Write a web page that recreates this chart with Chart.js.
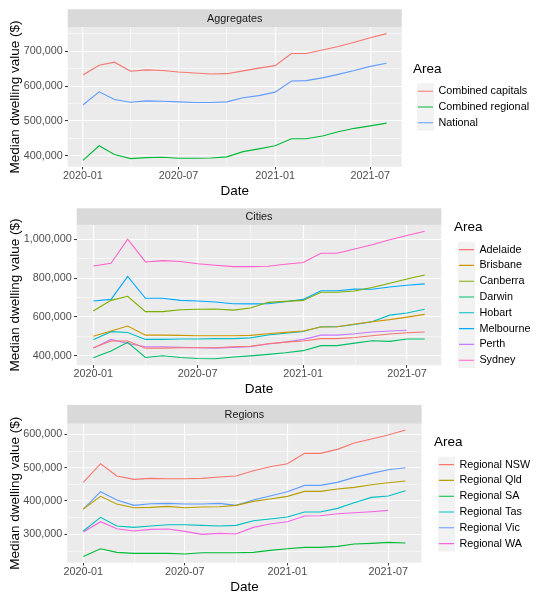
<!DOCTYPE html>
<html>
<head>
<meta charset="utf-8">
<script src="https://cdn.jsdelivr.net/npm/chart.js@4.4.1/dist/chart.umd.min.js"></script>
<style>
  html, body { margin: 0; padding: 0; background: #fff; }
  #wrap { position: relative; width: 543px; height: 600px; }
  .panel { position: absolute; left: 0; width: 543px; height: 200px; }
</style>
</head>
<body>
<div id="wrap">
  <div class="panel" style="top:0"><canvas id="aggChart" width="543" height="200"></canvas></div>
  <div class="panel" style="top:200px"><canvas id="cityChart" width="543" height="200"></canvas></div>
  <div class="panel" style="top:400px"><canvas id="regionChart" width="543" height="200"></canvas></div>
</div>
<script>
// monthly observations, first day of each month
const months = ['2020-01', '2020-02', '2020-03', '2020-04', '2020-05', '2020-06', '2020-07',
  '2020-08', '2020-09', '2020-10', '2020-11', '2020-12', '2021-01', '2021-02', '2021-03',
  '2021-04', '2021-05', '2021-06', '2021-07', '2021-08'];
const xTickLabels = ['2020-01', '2020-07', '2021-01', '2021-07'];

// Aggregates
const aggAreas = ['Combined capitals', 'Combined regional', 'National'];
const combinedCapitals = [632000, 660000, 669000, 643000, 647000, 645000, 641000, 638000, 635000, 636000,
  644000, 652000, 659000, 694000, 694000, 704000, 714000, 726000, 739000, 751000];
const combinedRegional = [387000, 429000, 404000, 392000, 395000, 396000, 393000, 393000, 394000, 397000,
  412000, 420000, 429000, 449000, 449000, 457000, 469000, 479000, 486000, 494000];
const national = [546000, 584000, 562000, 554000, 558000, 557000, 555000, 553000, 553000, 555000,
  567000, 573000, 583000, 615000, 616000, 624000, 634000, 645000, 657000, 666000];
const aggYTicks = [400000, 500000, 600000, 700000];

// Cities
const cityAreas = ['Adelaide', 'Brisbane', 'Canberra', 'Darwin', 'Hobart', 'Melbourne', 'Perth', 'Sydney'];
const adelaide = [441000, 476000, 476000, 439000, 439000, 441000, 441000, 441000, 446000, 449000,
  462000, 470000, 476000, 488000, 488000, 494000, 503000, 512000, 518000, 522000];
const brisbane = [500000, 527000, 553000, 506000, 506000, 505000, 503000, 503000, 503000, 505000,
  513000, 520000, 527000, 548000, 549000, 563000, 575000, 586000, 599000, 613000];
const canberra = [630000, 685000, 706000, 627000, 627000, 637000, 639000, 641000, 635000, 646000,
  675000, 680000, 685000, 727000, 727000, 733000, 751000, 773000, 795000, 816000];
const darwin = [390000, 424000, 469000, 391000, 400000, 391000, 386000, 384000, 393000, 399000,
  407000, 415000, 426000, 452000, 452000, 465000, 477000, 474000, 486000, 486000];
const hobart = [482000, 524000, 520000, 484000, 484000, 486000, 486000, 488000, 488000, 492000,
  507000, 516000, 525000, 549000, 549000, 561000, 575000, 609000, 620000, 639000];
const melbourne = [682000, 690000, 809000, 696000, 696000, 685000, 682000, 677000, 668000, 667000,
  668000, 678000, 690000, 735000, 735000, 743000, 742000, 754000, 763000, 770000];
const perth = [438000, 484000, 463000, 446000, 446000, 443000, 441000, 439000, 443000, 447000,
  460000, 470000, 484000, 506000, 506000, 513000, 522000, 527000, 531000];
const sydney = [862000, 876000, 1000000, 883000, 890000, 885000, 874000, 866000, 859000, 859000,
  861000, 871000, 880000, 928000, 928000, 950000, 972000, 997000, 1019000, 1041000];
const cityYTicks = [400000, 600000, 800000, 1000000];

// Regions
const regionAreas = ['Regional NSW', 'Regional Qld', 'Regional SA', 'Regional Tas', 'Regional Vic', 'Regional WA'];
const regionalNSW = [456000, 512000, 475000, 465000, 468000, 467000, 467000, 468000, 472000, 475000,
  491000, 503000, 512000, 543000, 543000, 555000, 574000, 586000, 598000, 613000];
const regionalQld = [376000, 414000, 391000, 380000, 381000, 384000, 380000, 382000, 383000, 387000,
  399000, 406000, 414000, 429000, 429000, 436000, 441000, 449000, 455000, 460000];
const regionalSA = [234000, 257000, 246000, 243000, 243000, 243000, 241000, 245000, 245000, 245000,
  246000, 252000, 257000, 261000, 261000, 264000, 271000, 273000, 276000, 274000];
const regionalTas = [310000, 351000, 325000, 321000, 325000, 329000, 329000, 327000, 325000, 327000,
  341000, 346000, 352000, 367000, 367000, 378000, 395000, 411000, 415000, 431000];
const regionalVic = [376000, 428000, 403000, 387000, 392000, 393000, 391000, 391000, 393000, 387000,
  403000, 415000, 428000, 447000, 447000, 456000, 471000, 483000, 494000, 500000];
const regionalWA = [307000, 338000, 317000, 310000, 315000, 316000, 309000, 300000, 303000, 301000,
  321000, 331000, 338000, 355000, 356000, 362000, 365000, 368000, 372000];
const regionYTicks = [300000, 400000, 500000, 600000];

const FONT = '"Liberation Sans", Arial, Helvetica, sans-serif';
Chart.defaults.font.family = FONT;

function dayOf(label) {
  const [y, m] = label.split('-').map(Number);
  return (Date.UTC(y, m - 1, 1) - Date.UTC(2020, 0, 1)) / 864e5;
}
function withCommas(v) {
  return String(Math.round(v)).replace(/\B(?=(\d{3})+(?!\d))/g, ',');
}
// ggplot style minor breaks: halfway between majors, kept inside the limits
function minorBreaks(major, lo, hi) {
  const out = [];
  const first = major[0] - (major[1] - major[0]) / 2;
  const last = major[major.length - 1] + (major[major.length - 1] - major[major.length - 2]) / 2;
  [first, ...major.slice(0, -1).map((v, i) => (v + major[i + 1]) / 2), last]
    .forEach(v => { if (v > lo && v < hi) out.push(v); });
  return out;
}

// where the ggplot panel, strip and legend sit on each canvas
const panels = [
  { id: 'aggChart', strip: 'Aggregates', areas: aggAreas,
    series: [combinedCapitals, combinedRegional, national], yTicks: aggYTicks,
    colors: ['#F8766D', '#00BA38', '#619CFF'],
    box: { left: 67.7, right: 401.7, top: 27.3, bottom: 166.7, stripTop: 9.3 },
    key: { left: 417, firstY: 91.2 } },
  { id: 'cityChart', strip: 'Cities', areas: cityAreas,
    series: [adelaide, brisbane, canberra, darwin, hobart, melbourne, perth, sydney], yTicks: cityYTicks,
    colors: ['#F8766D', '#CD9600', '#7CAE00', '#00BE67', '#00BFC4', '#00A9FF', '#C77CFF', '#FF61CC'],
    box: { left: 76.7, right: 441.3, top: 24.9, bottom: 165.2, stripTop: 8.3 },
    key: { left: 458, firstY: 49.6 } },
  { id: 'regionChart', strip: 'Regions', areas: regionAreas,
    series: [regionalNSW, regionalQld, regionalSA, regionalTas, regionalVic, regionalWA], yTicks: regionYTicks,
    colors: ['#F8766D', '#B79F00', '#00BA38', '#00BFC4', '#619CFF', '#F564E3'],
    box: { left: 67.2, right: 421.6, top: 23.7, bottom: 162.7, stripTop: 5 },
    key: { left: 438, firstY: 64.6 } }
];

const X_AXIS_H = 32.5;

function facetPlugin(cfg) {
  return {
    id: 'facet_' + cfg.id,
    afterUpdate(chart) {
      // move the legend to where ggplot puts it
      const lg = chart.legend;
      const hb = lg && lg.legendHitBoxes;
      if (!hb || !hb.length) return;
      const dx = cfg.key.left + 1 - hb[0].left;
      const dy = cfg.key.firstY - (hb[0].top + hb[0].height / 2);
      lg.left += dx; lg.right += dx; lg.top += dy; lg.bottom += dy;
      hb.forEach(b => { b.left += dx; b.top += dy; });
      // ggplot lines the title up with the keys, not the legend edge
      if (!lg._titleShifted && typeof lg._drawTitle === 'function') {
        const orig = lg._drawTitle;
        lg._drawTitle = function () {
          const p = this.options.labels.padding - 1;
          this.left += p; this.right += p;
          orig.call(this);
          this.left -= p; this.right -= p;
        };
        lg._titleShifted = true;
      }
    },
    beforeDraw(chart) {
      const { ctx, chartArea: a } = chart;
      ctx.save();
      ctx.fillStyle = '#EBEBEB';
      ctx.fillRect(a.left, a.top, a.right - a.left, a.bottom - a.top);
      ctx.fillStyle = '#D9D9D9';
      ctx.fillRect(a.left, cfg.box.stripTop, a.right - a.left, a.top - cfg.box.stripTop);
      ctx.fillStyle = '#1A1A1A';
      ctx.font = '10.8px ' + FONT;
      ctx.textAlign = 'center';
      ctx.textBaseline = 'middle';
      ctx.fillText(cfg.strip, (a.left + a.right) / 2, (cfg.box.stripTop + a.top) / 2 + 0.5);
      // legend key background
      const hb = chart.legend.legendHitBoxes;
      if (hb && hb.length) {
        const last = hb[hb.length - 1];
        const top = hb[0].top - 2.5;
        ctx.fillStyle = '#F2F2F2';
        ctx.fillRect(hb[0].left - 1, top, 17, last.top + last.height + 2.5 - top);
      }
      ctx.restore();
    }
  };
}

function makePanel(cfg) {
  const xs = months.map(dayOf);
  const xPad = (xs[xs.length - 1] - xs[0]) * 0.05;
  const xMin = xs[0] - xPad, xMax = xs[xs.length - 1] + xPad;
  const xMajor = xTickLabels.map(dayOf);
  const xMinor = minorBreaks(xMajor, xMin, xMax);

  const all = cfg.series.flat();
  const lo = Math.min(...all), hi = Math.max(...all);
  const yPad = (hi - lo) * 0.05;
  const yMin = lo - yPad, yMax = hi + yPad;
  const yMinor = minorBreaks(cfg.yTicks, yMin, yMax);

  const padding = { left: 0, top: cfg.box.top, right: 30, bottom: 200 - cfg.box.bottom - X_AXIS_H };

  const gridFor = major => ({
    color: '#FFFFFF',
    lineWidth: c => (c.tick && major.includes(c.tick.value)) ? 1.1 : 0.55,
    tickColor: c => (c.tick && major.includes(c.tick.value)) ? '#333333' : 'rgba(0,0,0,0)',
    tickWidth: 1,
    tickLength: 2.75,
    drawTicks: true
  });

  const options = {
    responsive: false,
    animation: false,
    layout: { padding: padding, autoPadding: false },
    plugins: {
      tooltip: { enabled: false },
      legend: {
        position: 'right',
        align: 'center',
        title: { display: true, text: 'Area', color: '#000000', font: { size: 13.5 }, padding: 2, position: 'start' },
        labels: { usePointStyle: true, pointStyle: 'line', pointStyleWidth: 15, color: '#000000',
          font: { size: 10.8 }, padding: 5 }
      }
    },
    scales: {
      x: {
        type: 'linear', min: xMin, max: xMax, bounds: 'data',
        afterBuildTicks: s => { s.ticks = [...xMajor, ...xMinor].sort((a, b) => a - b).map(v => ({ value: v })); },
        afterFit: s => { s.height = X_AXIS_H; },
        grid: gridFor(xMajor),
        border: { display: false },
        ticks: {
          autoSkip: false, maxRotation: 0, padding: 0, color: '#4D4D4D', font: { size: 10.8 },
          callback: v => { const k = xMajor.indexOf(v); return k >= 0 ? xTickLabels[k] : ''; }
        },
        title: { display: true, text: 'Date', color: '#000000', font: { size: 13.5 }, padding: { top: 0, bottom: 0 } }
      },
      y: {
        type: 'linear', min: yMin, max: yMax, bounds: 'data',
        afterBuildTicks: s => { s.ticks = [...cfg.yTicks, ...yMinor].sort((a, b) => a - b).map(v => ({ value: v })); },
        afterFit: s => { s.width = cfg.box.left; },
        grid: gridFor(cfg.yTicks),
        border: { display: false },
        ticks: {
          autoSkip: false, padding: 2.2, color: '#4D4D4D', font: { size: 10.8 },
          callback: v => cfg.yTicks.includes(v) ? withCommas(v) : ''
        },
        title: { display: true, text: 'Median dwelling value ($)', color: '#000000', font: { size: 13.5 },
          padding: { top: 6.9, bottom: 0 } }
      }
    }
  };

  const chart = new Chart(document.getElementById(cfg.id), {
    type: 'line',
    data: {
      datasets: cfg.areas.map((name, i) => ({
        label: name,
        data: cfg.series[i].map((v, j) => ({ x: xs[j], y: v })),
        borderColor: cfg.colors[i],
        backgroundColor: cfg.colors[i],
        borderWidth: 1.1,
        pointRadius: 0,
        tension: 0
      }))
    },
    options: options,
    plugins: [facetPlugin(cfg)]
  });

  // second pass so the panel's right edge lands where ggplot has it
  padding.right += chart.chartArea.right - cfg.box.right;
  chart.update();
  return chart;
}

panels.forEach(makePanel);
</script>
</body>
</html>
